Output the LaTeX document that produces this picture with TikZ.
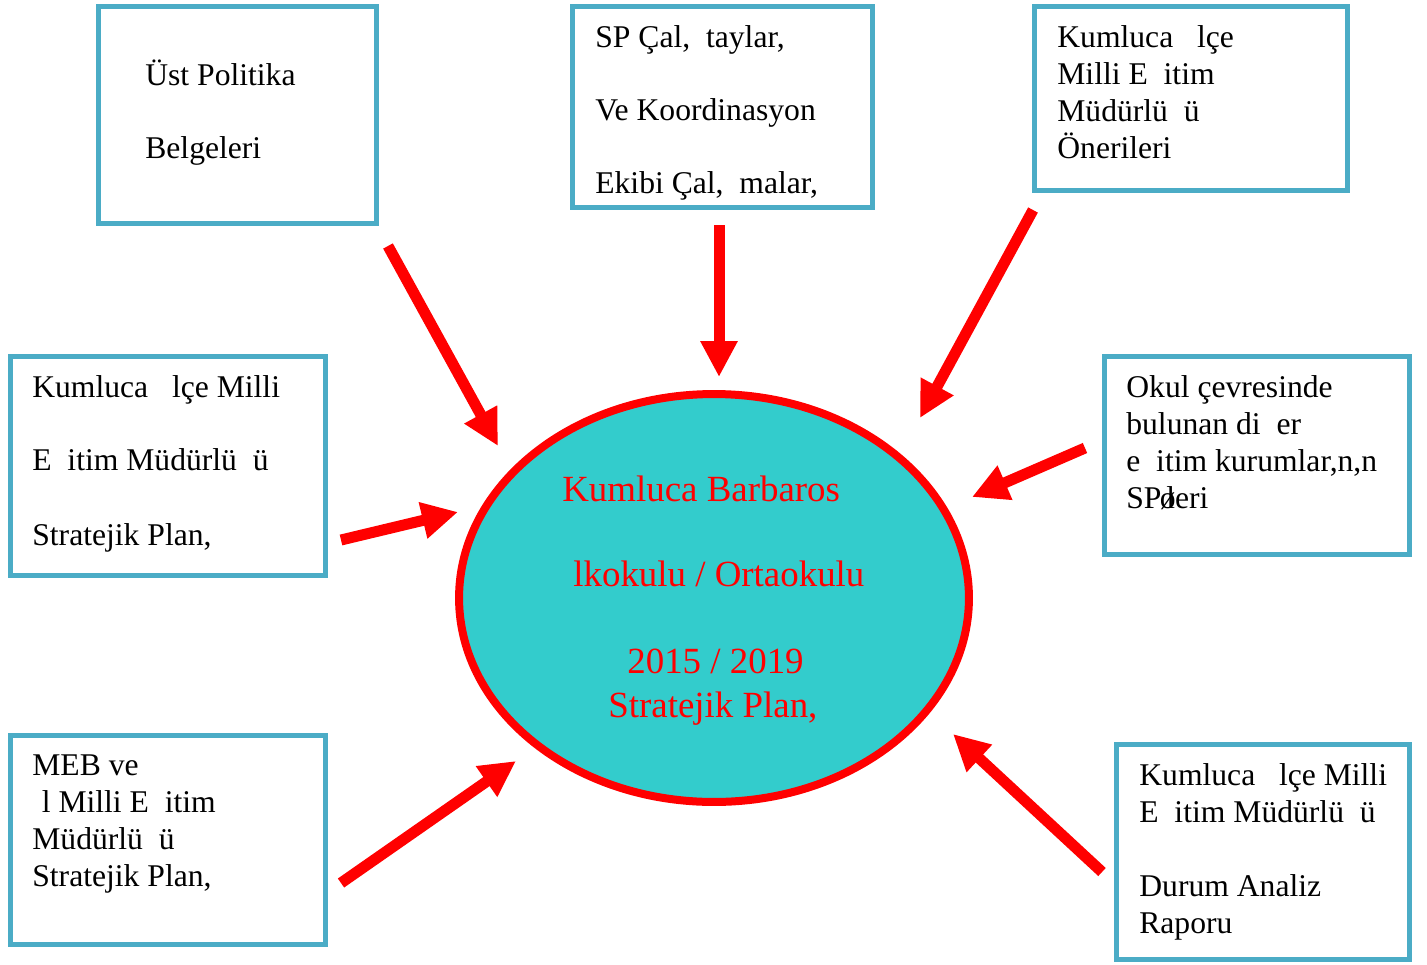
\documentclass[tikz,border=0pt]{standalone}
\usepackage{fontspec}
\setmainfont{Liberation Serif}
\usetikzlibrary{arrows.meta,shapes.geometric,fit}

\definecolor{boxblue}{RGB}{75,172,198}
\definecolor{discfill}{RGB}{51,204,204}

\tikzset{
	box/.style={draw=boxblue, line width=0.1cm, inner sep=0pt},
	txt/.style={anchor=base west, align=left, inner sep=0pt, font=\fontsize{18}{21}\selectfont},
	ctxt/.style={anchor=base west, inner sep=0pt, text=red, font=\fontsize{21}{25}\selectfont},
	arr/.style={draw=red, line width=0.22cm, -{Triangle[length=0.72cm,width=0.7cm]}}
}

\begin{document}
\begin{tikzpicture}[x=0.02cm,y=-0.02cm]

		\useasboundingbox (0,0) rectangle (1427,964);

		% Boxes
		\node[box, fit={(98.5,6.5) (376.5,223.5)}] (b1) {};
		\node[box, fit={(572.5,6.5) (872.5,207.5)}] (b2) {};
		\node[box, fit={(1034.5,6.5) (1347.5,190.5)}] (b3) {};
		\node[box, fit={(10.5,356.5) (325.5,575.5)}] (b4) {};
		\node[box, fit={(1104.5,356.5) (1409.5,554.5)}] (b5) {};
		\node[box, fit={(10.5,735.5) (325.5,944.5)}] (b6) {};
		\node[box, fit={(1116.5,744.5) (1409.5,959.5)}] (b7) {};

		% Box texts (placed at the baseline of the last line)
		\node[txt] (t1) at (145,158) {Üst Politika\\[20.4pt]Belgeleri};
		\node[txt] (t2) at (595,193) {SP Çal,\ \ taylar,\\[20.4pt]Ve Koordinasyon\\[20.4pt]Ekibi Çal,\ \ malar,};
		\node[txt] (t3) at (1057,158) {Kumluca\ \ \ lçe\\Milli E\ \ itim\\Müdürlü\ \ ü\\Önerileri};
		\node[txt] (t4) at (32,545) {Kumluca\ \ \ lçe Milli\\[20.4pt]E\ \ itim Müdürlü\ \ ü\\[21.5pt]Stratejik Plan,};
		\node[txt] (t5) at (1126,508) {Okul çevresinde\\bulunan di\ \ er\\e\ \ itim kurumlar,n,n\\SP\kern-0.05em ø\kern-0.3em leri};
		\node[txt] (t6) at (32,886) {MEB ve\\\hspace*{0.3em}l Milli E\ \ itim\\Müdürlü\ \ ü\\Stratejik Plan,};
		\node[txt] (t7) at (1139,933) {Kumluca\ \ \ lçe Milli\\E\ \ itim Müdürlü\ \ ü\\[21pt]Durum Analiz\\Raporu};

		% Centre
		\node[draw=red, fill=discfill, line width=0.16cm, ellipse, inner sep=0pt,
			minimum width=10.2cm, minimum height=8.16cm] (c) at (714,598) {};
		\node[ctxt] (c1) at (562,501) {Kumluca Barbaros};
		\node[ctxt] (c2) at (573,586) {lkokulu / Ortaokulu};
		\node[ctxt] (c3) at (627,673) {2015 / 2019};
		\node[ctxt] (c4) at (608,717) {Stratejik Plan,};

		% Arrows
		\coordinate (a1s) at (388,246);
		\coordinate (a1e) at (498,446);
		\coordinate (a2s) at (719,225);
		\coordinate (a2e) at (719,377);
		\coordinate (a3s) at (1033,210);
		\coordinate (a3e) at (920,418);
		\coordinate (a4s) at (1085,448);
		\coordinate (a4e) at (972,497);
		\coordinate (a5s) at (341,540);
		\coordinate (a5e) at (458,512);
		\coordinate (a6s) at (341,883);
		\coordinate (a6e) at (516,761);
		\coordinate (a7s) at (1102,872);
		\coordinate (a7e) at (953,734);

		\draw[arr] (a1s) -- (a1e);
		\draw[arr] (a2s) -- (a2e);
		\draw[arr] (a3s) -- (a3e);
		\draw[arr] (a4s) -- (a4e);
		\draw[arr] (a5s) -- (a5e);
		\draw[arr] (a6s) -- (a6e);
		\draw[arr] (a7s) -- (a7e);

\end{tikzpicture}
\end{document}
